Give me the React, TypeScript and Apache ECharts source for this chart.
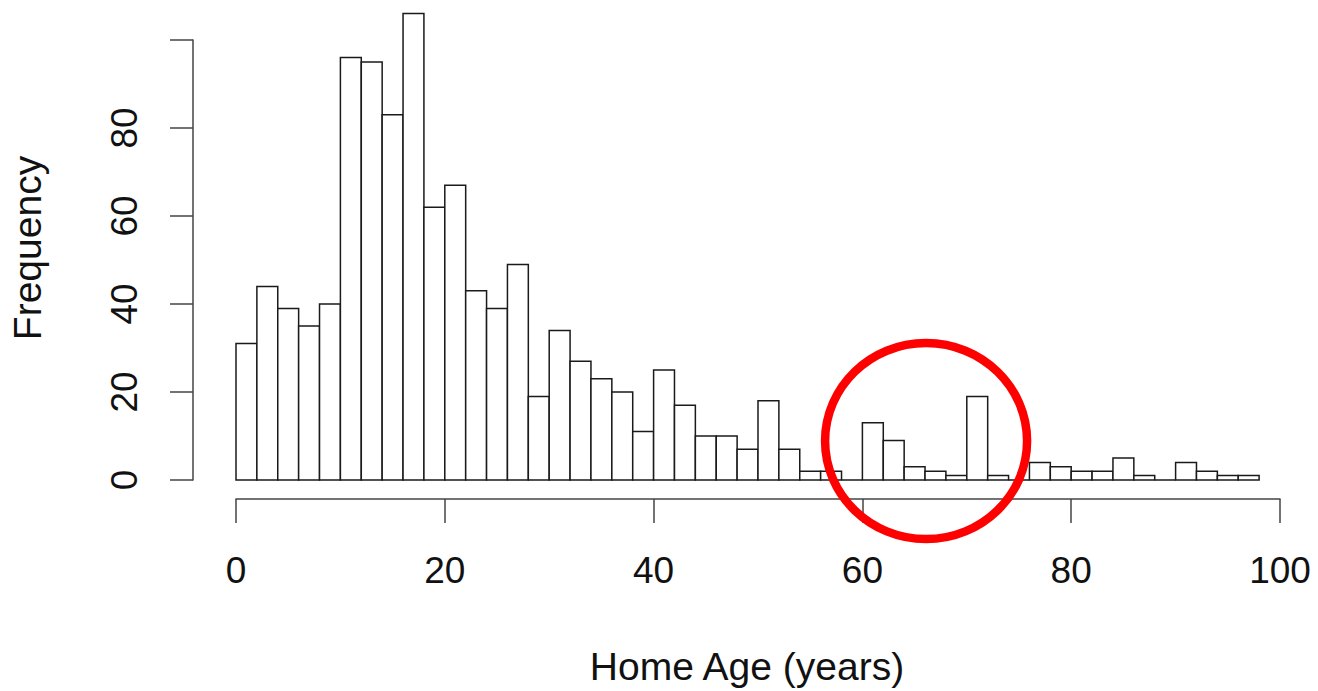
import React, { useEffect, useRef } from "react";
import * as echarts from "echarts";

// Histogram of home ages, 2-year bins from 0 to 98
const binWidth = 2;
const binStarts = [
  0, 2, 4, 6, 8, 10, 12, 14, 16, 18, 20, 22, 24, 26, 28, 30, 32, 34, 36, 38,
  40, 42, 44, 46, 48, 50, 52, 54, 56, 58, 60, 62, 64, 66, 68, 70, 72, 74, 76,
  78, 80, 82, 84, 86, 88, 90, 92, 94, 96,
];
const counts = [
  31, 44, 39, 35, 40, 96, 95, 83, 106, 62, 67, 43, 39, 49, 19, 34, 27, 23, 20,
  11, 25, 17, 10, 10, 7, 18, 7, 2, 2, 0, 13, 9, 3, 2, 1, 19, 1, 0, 4, 3, 2, 2,
  5, 1, 0, 4, 2, 1, 1,
];
const xTicks = [0, 20, 40, 60, 80, 100];
const yTicks = [0, 20, 40, 60, 80, 100];
const yLabelled = [0, 20, 40, 60, 80];

// Highlighted region (centre in data units)
const highlightCenter = [66.1, 8.85];

const FONT = "'Liberation Sans', Arial, Helvetica, sans-serif";

export default function App() {
  const ref = useRef<HTMLDivElement>(null);

  useEffect(() => {
    if (!ref.current) return;
    const chart = echarts.init(ref.current, null, { renderer: "svg" });
    const data = binStarts.map((s, i) => [s, s + binWidth, counts[i]]);

    chart.setOption({
      animation: false,
      backgroundColor: "#ffffff",
      grid: { left: 236, right: 38, top: 40, bottom: 209, containLabel: false },
      xAxis: {
        type: "value",
        min: xTicks[0],
        max: xTicks[xTicks.length - 1],
        interval: 20,
        offset: 19,
        axisLine: { show: true, onZero: false, lineStyle: { color: "#444", width: 1.5 } },
        axisTick: { show: true, length: 24, lineStyle: { color: "#444", width: 1.5 } },
        splitLine: { show: false },
        axisLabel: { color: "#111", fontSize: 37, fontFamily: FONT, margin: 53 },
        name: "Home Age (years)",
        nameLocation: "middle",
        nameGap: 148,
        nameTextStyle: {
          color: "#111",
          fontSize: 39,
          fontFamily: FONT,
          padding: [0, 22, 0, 0],
        },
      },
      yAxis: {
        type: "value",
        min: yTicks[0],
        max: yTicks[yTicks.length - 1],
        interval: 20,
        offset: 43,
        axisLine: { show: true, onZero: false, lineStyle: { color: "#444", width: 1.5 } },
        axisTick: { show: true, length: 23, lineStyle: { color: "#444", width: 1.5 } },
        splitLine: { show: false },
        axisLabel: {
          color: "#111",
          fontSize: 37,
          fontFamily: FONT,
          rotate: 90,
          margin: 50,
          formatter: (v: number) => (yLabelled.includes(v) ? String(v) : ""),
        },
        name: "Frequency",
        nameLocation: "middle",
        nameGap: 146,
        nameRotate: 90,
        nameTextStyle: {
          color: "#111",
          fontSize: 39,
          fontFamily: FONT,
          padding: [0, 0, 0, 24],
        },
      },
      series: [
        {
          type: "custom",
          silent: true,
          clip: false,
          data,
          encode: { x: [0, 1], y: 2 },
          renderItem: (_params: any, api: any) => {
            const start = api.value(0);
            const end = api.value(1);
            const count = api.value(2);
            const topLeft = api.coord([start, count]);
            const bottomRight = api.coord([end, 0]);
            return {
              type: "rect",
              shape: {
                x: topLeft[0],
                y: topLeft[1],
                width: bottomRight[0] - topLeft[0],
                height: bottomRight[1] - topLeft[1],
              },
              style: { fill: "#ffffff", stroke: "#1a1a1a", lineWidth: 1.5 },
            };
          },
        },
      ],
    });

    const c = chart.convertToPixel({ gridIndex: 0 }, highlightCenter) as number[];
    chart.setOption({
      graphic: [
        {
          type: "ellipse",
          silent: true,
          z: 100,
          shape: { cx: c[0], cy: c[1], rx: 101, ry: 98 },
          style: { fill: "none", stroke: "#ff0000", lineWidth: 8.5 },
        },
      ],
    });

    return () => chart.dispose();
  }, []);

  return (
    <div
      ref={ref}
      style={{ position: "absolute", left: 0, top: 0, width: 1318, height: 691 }}
    />
  );
}
